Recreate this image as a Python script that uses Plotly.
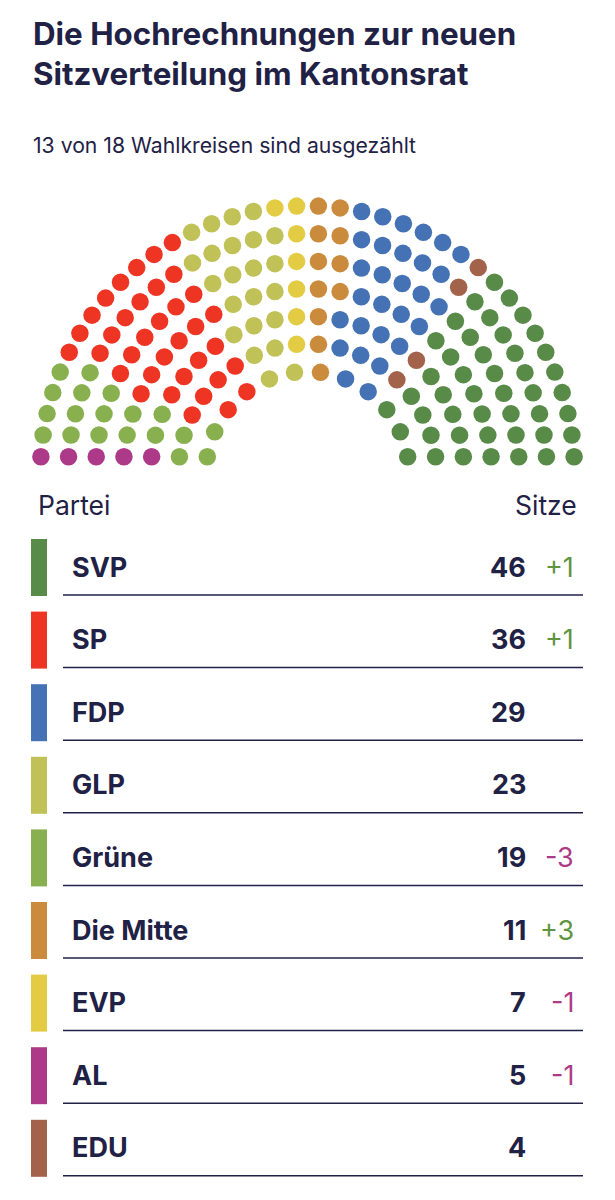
"""Sitzverteilung Kantonsrat: parliament dots plus party table."""
import numpy as np
import plotly.graph_objects as go

parties = ["SVP", "SP", "FDP", "GLP", "Grüne", "Die Mitte", "EVP", "AL", "EDU"]
seats = [46, 36, 29, 23, 19, 11, 7, 5, 4]
changes = ["+1", "+1", "", "", "-3", "+3", "-1", "-1", ""]
colors = ["#588a48", "#ee3524", "#4472b5", "#c0c157", "#88b04f",
          "#cb8b3c", "#e3cc44", "#ad3a88", "#a3624a"]
# seating order in the hemicycle, left to right
seat_order = ["AL", "Grüne", "SP", "GLP", "EVP", "Die Mitte", "FDP", "EDU", "SVP"]
row_counts = [12, 18, 22, 26, 30, 34, 38]

NAVY = "#1f2145"
UP = "#5f9440"
DOWN = "#ae3a85"
FONT = "Inter"

# hemicycle geometry (px on the page)
cx, cy = 307.5, 473.0
r_inner, r_step = 101.5, 27.6

px_seats = []
for i, n in enumerate(row_counts):
    r = r_inner + i * r_step
    a0 = np.arcsin(16.3 / r)
    for ang in np.linspace(a0, np.pi - a0, n):
        px_seats.append((ang, r))
# sweep from left to right, outer rows first on ties
px_seats.sort(key=lambda s: (-s[0], -s[1]))

seat_colors = []
for name in seat_order:
    seat_colors += [colors[parties.index(name)]] * seats[parties.index(name)]

fig = go.Figure()
fig.add_trace(go.Scatter(
    x=[cx + r * np.cos(a) for a, r in px_seats],
    y=[cy - r * np.sin(a) for a, r in px_seats],
    mode="markers",
    marker=dict(size=17.5, color=seat_colors, line=dict(width=0)),
    hoverinfo="skip",
))


def add_text(x, y, text, size, color=NAVY, bold=False, anchor="left"):
    fig.add_annotation(x=x, y=y, text=text, xref="x", yref="y", showarrow=False,
                       xanchor=anchor, yanchor="middle",
                       font=dict(family=FONT, size=size, color=color,
                                 weight=700 if bold else 400))


add_text(31, 34, "Die Hochrechnungen zur neuen", 31.3, bold=True)
add_text(31, 74, "Sitzverteilung im Kantonsrat", 31.3, bold=True)
add_text(31, 145, "13 von 18 Wahlkreisen sind ausgezählt", 21.2)
add_text(36, 505, "Partei", 26.5)
add_text(579, 505, "Sitze", 26.5, anchor="right")

row_top, row_step = 539, 72.6
for i, name in enumerate(parties):
    top = row_top + i * row_step
    fig.add_shape(type="rect", x0=31, x1=47, y0=top, y1=top + 57,
                  fillcolor=colors[i], line_width=0)
    fig.add_shape(type="line", x0=63, x1=583, y0=top + 56, y1=top + 56,
                  line=dict(color=NAVY, width=1.5))
    add_text(70, top + 28, name, 27, bold=True)
    add_text(528, top + 28, str(seats[i]), 27, bold=True, anchor="right")
    if changes[i]:
        add_text(576, top + 28, changes[i], 27, anchor="right",
                 color=UP if changes[i].startswith("+") else DOWN)

# the page keeps an 8px body margin, so the axes start at 8 to stay in page pixels
fig.update_layout(
    width=607, height=1192, margin=dict(l=0, r=0, t=0, b=0),
    paper_bgcolor="white", plot_bgcolor="white", showlegend=False,
    xaxis=dict(range=[8, 615], visible=False, fixedrange=True),
    yaxis=dict(range=[1200, 8], visible=False, fixedrange=True),
)
fig.write_html("out.html")
